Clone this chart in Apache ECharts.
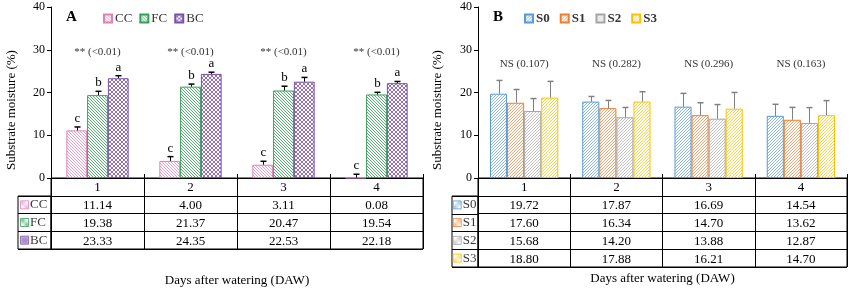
<!DOCTYPE html>
<html>
<head>
<meta charset="utf-8">
<script src="https://cdn.jsdelivr.net/npm/echarts/dist/echarts.min.js"></script>
<style>
html, body { margin: 0; padding: 0; background: #fff; }
#main { width: 850px; height: 288px; }
</style>
</head>
<body>
<div id="main"></div>
<script>
var days = ['1', '2', '3', '4'];

// panel A
var namesA = ['CC', 'FC', 'BC'];
var cc = [11.14, 4.00, 3.11, 0.08];
var fc = [19.38, 21.37, 20.47, 19.54];
var bc = [23.33, 24.35, 22.53, 22.18];
var ccErr = [0.8, 1.0, 0.8, 0.8];
var fcErr = [0.9, 0.6, 1.0, 0.5];
var bcErr = [0.6, 0.4, 1.0, 0.4];
var lettersA = [['c', 'c', 'c', 'c'], ['b', 'b', 'b', 'b'], ['a', 'a', 'a', 'a']];
var sigA = ['** (<0.01)', '** (<0.01)', '** (<0.01)', '** (<0.01)'];

// panel B
var namesB = ['S0', 'S1', 'S2', 'S3'];
var s0 = [19.72, 17.87, 16.69, 14.54];
var s1 = [17.60, 16.34, 14.70, 13.62];
var s2 = [15.68, 14.20, 13.88, 12.87];
var s3 = [18.80, 17.88, 16.21, 14.70];
var s0Err = [3.1, 1.2, 3.1, 2.7];
var s1Err = [3.1, 1.8, 2.9, 2.9];
var s2Err = [2.9, 2.3, 3.3, 3.6];
var s3Err = [3.8, 2.3, 3.8, 3.4];
var sigB = ['NS (0.107)', 'NS (0.282)', 'NS (0.296)', 'NS (0.163)'];

var FONT = "'Liberation Serif', 'Times New Roman', serif";
var colorsA = ['#e07fb8', '#35a057', '#7b4fa6'];
var colorsB = ['#5b9bd5', '#ed7d31', '#a5a5a5', '#ffc000'];

// small repeating hatch tile used as bar fill
function hatch(color, dir, cross, size, alpha) {
  var s = size || 3;
  var cv = document.createElement('canvas');
  cv.width = s; cv.height = s;
  var g = cv.getContext('2d');
  g.fillStyle = '#fff';
  g.fillRect(0, 0, s, s);
  g.globalAlpha = alpha || 1;
  g.strokeStyle = color;
  g.lineWidth = 1;
  g.beginPath();
  for (var k = -s; k <= s; k += s) {
    if (dir > 0 || cross) { g.moveTo(k, s); g.lineTo(k + s, 0); }
    if (dir < 0 || cross) { g.moveTo(k, 0); g.lineTo(k + s, s); }
  }
  g.stroke();
  return { image: cv, repeat: 'repeat' };
}

var fillA = [hatch(colorsA[0], -1, false, 3, 0.75), hatch(colorsA[1], -1, false, 3, 0.85), hatch(colorsA[2], 0, true, 4, 0.8)];
var fillB = colorsB.map(function (c) { return hatch(c, 1, false, 3, 0.7); });

function bars(names, vals, fills, colors, xi, gap) {
  return names.map(function (n, i) {
    return {
      name: n, type: 'bar', xAxisIndex: xi, yAxisIndex: xi,
      barGap: '0%', barCategoryGap: gap, data: vals[i],
      itemStyle: { color: fills[i], borderColor: colors[i], borderWidth: 1 }
    };
  });
}

function errorBars(vals, errs, xi, gap, color, letters) {
  var n = vals.length, data = [];
  vals.forEach(function (arr, s) {
    arr.forEach(function (v, c) { data.push([c, v, errs[s][c], s]); });
  });
  return {
    type: 'custom', xAxisIndex: xi, yAxisIndex: xi, z: 5, silent: true,
    encode: { x: 0, y: 1 }, data: data,
    renderItem: function (params, api) {
      var c = api.value(0), v = api.value(1), e = api.value(2), s = api.value(3);
      var band = api.size([1, 0])[0];
      var groupW = band * (1 - gap);
      var bw = groupW / n;
      var base = api.coord([c, v]);
      var x = Math.round(base[0] - groupW / 2 + bw * (s + 0.5)) + 0.5;
      var top = api.coord([c, v + e])[1];
      var kids = [
        { type: 'line', shape: { x1: x, y1: base[1], x2: x, y2: top }, style: { stroke: color, lineWidth: 1 } },
        { type: 'line', shape: { x1: x - 3, y1: top, x2: x + 3, y2: top }, style: { stroke: color, lineWidth: 1.5 } }
      ];
      if (letters) {
        kids.push({ type: 'text', style: { text: letters[s][c], x: x, y: top - 2, align: 'center', verticalAlign: 'bottom', font: '13px ' + FONT, fill: '#000' } });
      }
      return { type: 'group', children: kids };
    }
  };
}

function sigText(texts, y, xi) {
  return {
    type: 'custom', xAxisIndex: xi, yAxisIndex: xi, silent: true,
    encode: { x: 0, y: 1 },
    data: texts.map(function (t, i) { return [i, y]; }),
    renderItem: function (params, api) {
      var p = api.coord([api.value(0), api.value(1)]);
      return { type: 'text', style: { text: texts[params.dataIndex], x: p[0], y: p[1], align: 'center', verticalAlign: 'middle', font: '11px ' + FONT, fill: '#333' } };
    }
  };
}

function tableText(rows, xi) {
  var data = [];
  rows.forEach(function (r, ri) { r.forEach(function (t, ci) { data.push([ci, ri]); }); });
  return {
    type: 'custom', xAxisIndex: xi, yAxisIndex: xi, silent: true,
    encode: { x: 0, y: 1 }, data: data,
    renderItem: function (params, api) {
      var ci = api.value(0), ri = api.value(1);
      var p = api.coord([ci, ri]);
      return { type: 'text', style: { text: rows[ri][ci], x: p[0], y: p[1] + 1, align: 'center', verticalAlign: 'middle', font: '13px ' + FONT, fill: '#000' } };
    }
  };
}

function keyColumn(names, fills, colors, xi) {
  return {
    type: 'scatter', xAxisIndex: xi, yAxisIndex: xi, silent: true,
    symbol: 'rect', symbolSize: 8,
    data: names.map(function (n, i) {
      return { value: [0.2, i], itemStyle: { color: fills[i], borderColor: colors[i], borderWidth: 1 } };
    }),
    label: {
      show: true, position: 'right', distance: 1, color: '#000', fontFamily: FONT, fontSize: 13,
      formatter: function (p) { return names[p.dataIndex]; }
    }
  };
}

function fmtRows(vals) {
  var rows = [days.slice()];
  vals.forEach(function (arr) { rows.push(arr.map(function (v) { return v.toFixed(2); })); });
  return rows;
}

var valsA = [cc, fc, bc], errA = [ccErr, fcErr, bcErr];
var valsB = [s0, s1, s2, s3], errB = [s0Err, s1Err, s2Err, s3Err];

function chartAxes(xi) {
  return {
    x: {
      type: 'category', gridIndex: xi, data: days,
      axisLine: { lineStyle: { color: '#000' } },
      axisTick: { show: true, inside: true, length: 4, lineStyle: { color: '#000' } },
      axisLabel: { show: false }
    },
    y: {
      type: 'value', gridIndex: xi, min: 0, max: 40, interval: 10,
      name: 'Substrate moisture (%)', nameLocation: 'middle', nameGap: 33,
      nameTextStyle: { fontFamily: FONT, fontSize: 13, color: '#000', padding: [0, 35, 0, 0] },
      axisLine: { show: true, lineStyle: { color: '#000' } },
      axisTick: { show: true, length: 4, lineStyle: { color: '#000' } },
      axisLabel: { fontFamily: FONT, fontSize: 12, color: '#000', margin: 6 },
      splitLine: { show: false }
    }
  };
}

function tableAxes(gi, rowNames, nameGap) {
  return {
    x: {
      type: 'category', gridIndex: gi, data: days,
      name: 'Days after watering (DAW)', nameLocation: 'middle', nameGap: nameGap,
      nameTextStyle: { fontFamily: FONT, fontSize: 13, color: '#000' },
      axisLine: { show: false }, axisTick: { show: false }, axisLabel: { show: false },
      splitLine: { show: true, interval: 0, lineStyle: { color: '#000' } }
    },
    y: {
      type: 'category', gridIndex: gi, data: rowNames, inverse: true,
      axisLine: { show: false }, axisTick: { show: false }, axisLabel: { show: false },
      splitLine: { show: true, interval: 0, lineStyle: { color: '#000' } }
    }
  };
}

function keyAxes(gi, rowNames) {
  return {
    x: { type: 'value', gridIndex: gi, min: 0, max: 1, show: false },
    y: {
      type: 'category', gridIndex: gi, data: rowNames, inverse: true,
      axisLine: { show: false }, axisTick: { show: false }, axisLabel: { show: false },
      splitLine: { show: true, interval: 0, lineStyle: { color: '#000' } }
    }
  };
}

var cA = chartAxes(0), tA = tableAxes(1, ['h'].concat(namesA), 25), kA = keyAxes(2, namesA);
var cB = chartAxes(3), tB = tableAxes(4, ['h'].concat(namesB), 5), kB = keyAxes(5, namesB);
cB.y.nameGap = 34;

var tableGrid = { show: true, borderColor: '#000', borderWidth: 1, backgroundColor: 'transparent' };

var option = {
  animation: false,
  textStyle: { fontFamily: FONT },
  title: [
    { text: 'A', left: 61, top: 5, textStyle: { fontFamily: FONT, fontSize: 15, fontWeight: 'bold', color: '#000' } },
    { text: 'B', left: 488, top: 5, textStyle: { fontFamily: FONT, fontSize: 15, fontWeight: 'bold', color: '#000' } }
  ],
  legend: [
    { data: namesA, left: 98, top: 7, icon: 'rect', itemWidth: 8, itemHeight: 8, itemGap: 7,
      textStyle: { fontFamily: FONT, fontSize: 13, color: '#333', padding: [0, 0, 0, -2] } },
    { data: namesB, left: 519, top: 7, icon: 'rect', itemWidth: 8, itemHeight: 8, itemGap: 10,
      textStyle: { fontFamily: FONT, fontSize: 13, fontWeight: 'bold', color: '#333', padding: [0, 0, 0, -2] } }
  ],
  grid: [
    { left: 51, top: 7, width: 372, height: 171 },
    Object.assign({ left: 51, top: 178, width: 372, height: 71 }, tableGrid),
    Object.assign({ left: 18, top: 196, width: 33, height: 53 }, tableGrid),
    { left: 478, top: 7, width: 369, height: 171 },
    Object.assign({ left: 478, top: 178, width: 369, height: 89 }, tableGrid),
    Object.assign({ left: 452, top: 196, width: 26, height: 71 }, tableGrid)
  ],
  xAxis: [cA.x, tA.x, kA.x, cB.x, tB.x, kB.x],
  yAxis: [cA.y, tA.y, kA.y, cB.y, tB.y, kB.y],
  series: []
    .concat(bars(namesA, valsA, fillA, colorsA, 0, '33%'))
    .concat([errorBars(valsA, errA, 0, 0.33, '#000', lettersA), sigText(sigA, 29.5, 0)])
    .concat([tableText(fmtRows(valsA), 1), keyColumn(namesA, fillA, colorsA, 2)])
    .concat(bars(namesB, valsB, fillB, colorsB, 3, '26%'))
    .concat([errorBars(valsB, errB, 3, 0.26, '#808080', null), sigText(sigB, 26.7, 3)])
    .concat([tableText(fmtRows(valsB), 4), keyColumn(namesB, fillB, colorsB, 5)])
};

var chart = echarts.init(document.getElementById('main'));
chart.setOption(option);
</script>
</body>
</html>
